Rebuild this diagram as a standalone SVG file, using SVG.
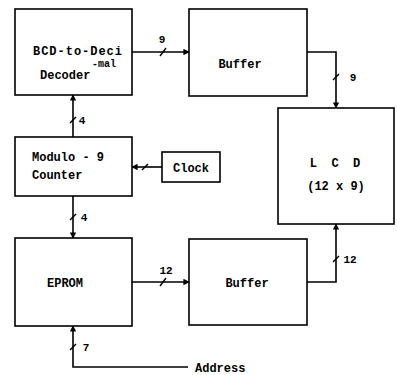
<svg xmlns="http://www.w3.org/2000/svg" width="397" height="375" viewBox="0 0 397 375">
<defs>
<style>
.box{fill:#fff;stroke:#000;stroke-width:1.6}
.ln{fill:none;stroke:#000;stroke-width:1.6}
.sl{fill:none;stroke:#000;stroke-width:1.4}
text{font-family:"Liberation Mono","DejaVu Sans Mono",monospace;font-size:12px;font-weight:bold;fill:#000}
.lb{font-size:11px}
.sm{font-size:10px}
</style>
<marker id="ah" viewBox="0 0 8 8" refX="7" refY="4" markerWidth="4" markerHeight="4" orient="auto" markerUnits="strokeWidth">
<path d="M0,0 L8,4 L0,8 z" fill="#000"/>
</marker>
</defs>
<rect width="397" height="375" fill="#fff"/>
<g id="connectors">
<path class="ln" d="M132,52 H189" marker-end="url(#ah)"/>
<path class="sl" d="M160,56 L166,48"/>
<text class="lb" x="162" y="43" text-anchor="middle">9</text>
<path class="ln" d="M307,52 H336 V108" marker-end="url(#ah)"/>
<path class="sl" d="M333,80 L339,74"/>
<text class="lb" x="353" y="81" text-anchor="middle">9</text>
<path class="ln" d="M73,137 V95" marker-end="url(#ah)"/>
<path class="sl" d="M70,123 L76,117"/>
<text class="lb" x="82" y="124" text-anchor="middle">4</text>
<path class="ln" d="M162,167 H132" marker-end="url(#ah)"/>
<path class="sl" d="M142,170 L148,164"/>
<path class="ln" d="M73,196 V238" marker-end="url(#ah)"/>
<path class="sl" d="M70,220 L76,214"/>
<text class="lb" x="84" y="221" text-anchor="middle">4</text>
<path class="ln" d="M132,282 H189" marker-end="url(#ah)"/>
<path class="sl" d="M160,286 L166,278"/>
<text class="lb" x="166" y="274" text-anchor="middle">12</text>
<path class="ln" d="M307,282 H336 V224" marker-end="url(#ah)"/>
<path class="sl" d="M333,262 L339,256"/>
<text class="lb" x="350" y="263" text-anchor="middle">12</text>
<path class="ln" d="M188,367 H73 V326" marker-end="url(#ah)"/>
<path class="sl" d="M70,350 L76,344"/>
<text class="lb" x="86" y="351" text-anchor="middle">7</text>
</g>
<g id="bcd">
<rect class="box" x="15" y="9" width="117" height="86"/>
<text x="33" y="55" textLength="89" lengthAdjust="spacing">BCD-to-Deci</text>
<text class="sm" x="92" y="67">-mal</text>
<text x="40" y="79">Decoder</text>
</g>
<g id="buffer1">
<rect class="box" x="189" y="9" width="118" height="87"/>
<text x="240" y="68" text-anchor="middle">Buffer</text>
</g>
<g id="lcd">
<rect class="box" x="278" y="108" width="116" height="116"/>
<text x="335" y="167" text-anchor="middle" xml:space="preserve">L  C  D</text>
<text x="336" y="190" text-anchor="middle">(12 x 9)</text>
</g>
<g id="counter">
<rect class="box" x="15" y="137" width="117" height="59"/>
<text x="32" y="161">Modulo - 9</text>
<text x="32" y="179">Counter</text>
</g>
<g id="clock">
<rect class="box" x="162" y="152" width="58" height="30"/>
<text x="191" y="172" text-anchor="middle">Clock</text>
</g>
<g id="eprom">
<rect class="box" x="15" y="238" width="117" height="88"/>
<text x="65" y="287" text-anchor="middle">EPROM</text>
</g>
<g id="buffer2">
<rect class="box" x="189" y="239" width="118" height="86"/>
<text x="247" y="287" text-anchor="middle">Buffer</text>
</g>
<g id="address">
<text x="195" y="372">Address</text>
</g>
</svg>
